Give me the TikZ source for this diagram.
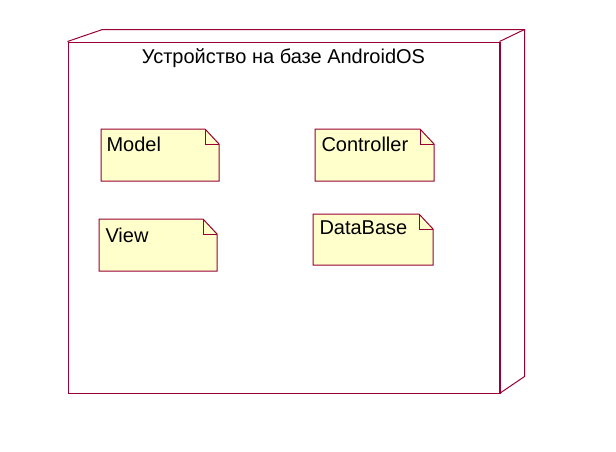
\documentclass[tikz,border=0pt]{standalone}
\usepackage{fontspec}
\setmainfont{Liberation Sans}
\usepackage{tikz}
\usepackage{xcolor}
\usetikzlibrary{backgrounds}
\definecolor{rose-line}{RGB}{153,0,51}
\definecolor{note-fill}{RGB}{255,255,204}
\tikzset{
    device-box/.style = {draw=rose-line, rectangle, inner sep=0pt, minimum width=431pt, minimum height=351pt},
    device-title/.style = {anchor=base, font=\fontsize{20}{24}\selectfont},
    note-box/.style = {rectangle, anchor=north west, inner sep=0pt, minimum width=117pt, minimum height=51pt},
    note-text/.style = {anchor=base west, inner sep=0pt, font=\fontsize{20}{24}\selectfont},
    note-shape/.style = {draw=rose-line, fill=note-fill, line width=1pt},
}

\begin{document}
\begin{tikzpicture}[x=1pt, y=-1pt, line width=1pt]
\useasboundingbox (0,0) rectangle (616,451);
\node [device-box] (device) at (283.5,217.5) {};
\draw [rose-line] (device.north west) -- ++(35,-12) -| ([shift={(25,-17)}]device.south east) -- (device.south east);
\draw [rose-line] (device.north east) -- ++(25,-12);
\draw [rose-line, line width=2pt] (device.north east) -- (device.south east);
\node [device-title] (title) at (283.5,63) {Устройство на базе AndroidOS};

\node [note-box] (model) at (101,129) {};
\node [note-box] (view) at (99,219) {};
\node [note-box, minimum width=118pt] (controller) at (315,129) {};
\node [note-box, minimum width=119pt, minimum height=50pt] (database) at (313,214) {};

\begin{scope}[on background layer]
\foreach \n in {model,view,controller,database} {
    \draw [note-shape] (\n.north west) -- ([xshift=-14pt]\n.north east) -- ([yshift=-15pt]\n.north east) -- (\n.south east) -- (\n.south west) -- cycle;
    \draw [note-shape, fill=none] ([xshift=-14pt]\n.north east) |- ([yshift=-15pt]\n.north east);
}
\end{scope}

\node [note-text] (model-text) at ([shift={(5,22)}]model.north west) {Model};
\node [note-text] (view-text) at ([shift={(6,23)}]view.north west) {View};
\node [note-text] (controller-text) at ([shift={(6,22)}]controller.north west) {Controller};
\node [note-text] (database-text) at ([shift={(6,20)}]database.north west) {DataBase};
\end{tikzpicture}
\end{document}
